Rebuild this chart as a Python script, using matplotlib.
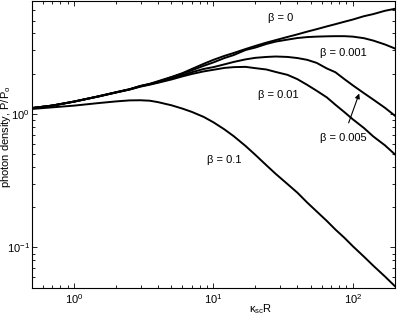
"""
Photon density vs kappa_sc R for several beta values
"""

import matplotlib
matplotlib.use("Agg")
import matplotlib.pyplot as plt

plt.rcParams['font.family'] = ['Liberation Sans', 'DejaVu Sans']
plt.rcParams['mathtext.fontset'] = 'custom'
plt.rcParams['mathtext.rm'] = 'Liberation Sans'
plt.rcParams['mathtext.it'] = 'Liberation Sans:italic'
plt.rcParams['mathtext.default'] = 'regular'
plt.rcParams['font.size'] = 8

# values
kappa_r = [0.5, 0.7, 1, 1.5, 2, 2.5, 3, 3.5, 4, 5, 6, 7, 8.5, 10, 12, 14, 17, 20, 24, 28,
           34, 40, 47, 55, 65, 75, 87, 100, 120, 140, 170, 200]

p_beta_0 = [1.106, 1.155, 1.237, 1.355, 1.453, 1.53, 1.62, 1.68, 1.756, 1.89, 2.02, 2.17,
            2.37, 2.54, 2.72, 2.86, 3.06, 3.23, 3.42, 3.57, 3.77, 3.94, 4.13, 4.31, 4.52,
            4.70, 4.90, 5.09, 5.39, 5.59, 5.92, 6.12]
p_beta_0001 = [1.106, 1.155, 1.236, 1.353, 1.450, 1.528, 1.618, 1.675, 1.74, 1.88, 2.00,
               2.12, 2.29, 2.43, 2.62, 2.76, 3.01, 3.14, 3.34, 3.48, 3.60, 3.70, 3.76, 3.79,
               3.81, 3.82, 3.82, 3.79, 3.69, 3.54, 3.31, 3.09]
p_beta_0005 = [1.106, 1.155, 1.236, 1.352, 1.448, 1.525, 1.61, 1.668, 1.725, 1.85, 1.95,
               2.05, 2.17, 2.24, 2.35, 2.45, 2.56, 2.63, 2.67, 2.69, 2.67, 2.62, 2.54, 2.41,
               2.19, 2.05, 1.82, 1.635, 1.43, 1.28, 1.11, 0.97]
p_beta_001 = [1.105, 1.153, 1.234, 1.35, 1.445, 1.52, 1.60, 1.655, 1.71, 1.81, 1.91, 1.99,
              2.08, 2.14, 2.21, 2.24, 2.25, 2.20, 2.15, 2.06, 1.96, 1.82, 1.65, 1.49, 1.33,
              1.17, 1.03, 0.91, 0.784, 0.678, 0.581, 0.498]
p_beta_01 = [1.089, 1.12, 1.153, 1.205, 1.24, 1.262, 1.265, 1.255, 1.225, 1.16, 1.095,
             1.035, 0.95, 0.865, 0.765, 0.68, 0.575, 0.493, 0.412, 0.355, 0.298, 0.257,
             0.217, 0.186, 0.158, 0.136, 0.118, 0.102, 0.0853, 0.073, 0.0605, 0.0513]

curves = [p_beta_0, p_beta_0001, p_beta_0005, p_beta_001, p_beta_01]

fig = plt.figure(figsize=(3.97, 3.17), dpi=100)
ax = fig.add_axes([0.0806, 0.0927, 0.914, 0.904])

for p in curves:
    ax.plot(kappa_r, p, color='k', lw=1.4)

ax.set_xscale('log')
ax.set_yscale('log')
ax.set_xlim(0.5, 200)
ax.set_ylim(0.05, 7)

ax.tick_params(which='both', direction='in', top=True, right=True, labelsize=8, width=0.6)
ax.tick_params(which='major', length=3.5, pad=3)
ax.tick_params(which='minor', length=2)
ax.tick_params(axis='y', which='major', pad=1.5)
for s in ax.spines.values():
    s.set_linewidth(0.8)

ax.set_xlabel('κ$_{sc}$R', fontsize=8)
ax.xaxis.set_label_coords(0.63, -0.05)
ax.set_ylabel('photon density, P/P$_o$', fontsize=8)
ax.yaxis.set_label_coords(-0.052, 0.525)

# curve labels
ax.text(30.5, 5.21, 'β = 0', ha='center', va='center')
ax.text(85, 2.86, 'β = 0.001', ha='center', va='center')
ax.text(29, 1.39, 'β = 0.01', ha='center', va='center')
ax.text(11.9, 0.449, 'β = 0.1', ha='center', va='center')
ax.annotate('β = 0.005', xy=(111, 1.42), xytext=(85, 0.655), ha='center', va='center',
            arrowprops=dict(arrowstyle='-|>', color='k', lw=0.8, mutation_scale=7,
                            shrinkA=6, shrinkB=0))

fig.savefig('out.png', dpi=100)
